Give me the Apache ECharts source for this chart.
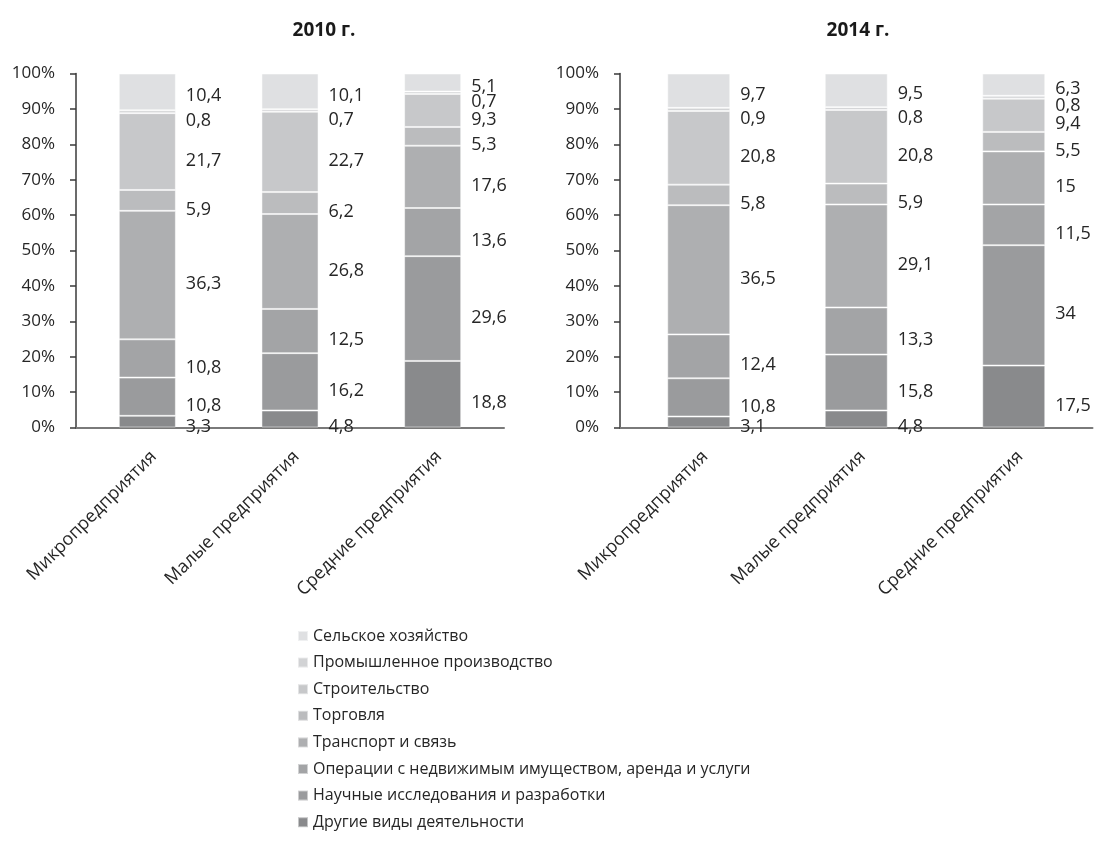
<!DOCTYPE html>
<html><head><meta charset="utf-8">
<script src="https://cdn.jsdelivr.net/npm/echarts@6/dist/echarts.min.js"></script>
<style>html,body{margin:0;padding:0;background:#fff}#c{width:1097px;height:848px}</style>
</head><body><div id="c"></div>
<script>
// ---- data ----
const categories = ['Микропредприятия', 'Малые предприятия', 'Средние предприятия'];
const panelTitles = ['2010 г.', '2014 г.'];
// series, stacked bottom -> top
const seriesNames = [
  'Другие виды деятельности',
  'Научные исследования и разработки',
  'Операции с недвижимым имуществом, аренда и услуги',
  'Транспорт и связь',
  'Торговля',
  'Строительство',
  'Промышленное производство',
  'Сельское хозяйство'
];
const legendOrder = seriesNames.slice().reverse();
// values per series (same order as seriesNames), per category
const data2010 = [
  [3.3, 4.8, 18.8],
  [10.8, 16.2, 29.6],
  [10.8, 12.5, 13.6],
  [36.3, 26.8, 17.6],
  [5.9, 6.2, 5.3],
  [21.7, 22.7, 9.3],
  [0.8, 0.7, 0.7],
  [10.4, 10.1, 5.1]
];
const data2014 = [
  [3.1, 4.8, 17.5],
  [10.8, 15.8, 34],
  [12.4, 13.3, 11.5],
  [36.5, 29.1, 15],
  [5.8, 5.9, 5.5],
  [20.8, 20.8, 9.4],
  [0.9, 0.8, 0.8],
  [9.7, 9.5, 6.3]
];
const yMin = 0, yMax = 100, yInterval = 10;
const colors = ['#898a8c', '#9a9b9d', '#a3a4a6', '#aeafb1', '#bbbcbe', '#c7c8ca', '#d2d3d5', '#dfe0e2'];

// ---- layout ----
const FONT = 'Open Sans';
const GRID_TOP = 73.5, GRID_H = 354;
const BASE_Y = GRID_TOP + GRID_H;
const PX_PER = GRID_H / (yMax - yMin);
const GAP = 15, MIN_BOTTOM = 10, MAX_TOP = GRID_H - 4, TOP_RAISE = 5;

function computeLabelPos(data) {
  const res = [];
  const n = data.length;
  for (let c = 0; c < categories.length; c++) {
    let cum = 0; const centers = [];
    for (let s = 0; s < n; s++) {
      centers.push((cum + data[s][c] / 2) * PX_PER);
      cum += data[s][c];
    }
    centers[n - 1] += TOP_RAISE;
    const pos = [];
    for (let s = 0; s < n; s++) {
      pos[s] = s === 0 ? Math.max(centers[0], MIN_BOTTOM) : Math.max(centers[s], pos[s - 1] + GAP);
    }
    for (let s = n - 1; s >= 0; s--) {
      const lim = s === n - 1 ? MAX_TOP : pos[s + 1] - GAP;
      pos[s] = Math.min(pos[s], lim);
    }
    res.push(pos);
  }
  return res;
}
const labelPos = [computeLabelPos(data2010), computeLabelPos(data2014)];
const allData = [data2010, data2014];

const series = [];
allData.forEach((d, g) => {
  d.forEach((vals, s) => {
    series.push({
      type: 'bar',
      name: seriesNames[s],
      xAxisIndex: g, yAxisIndex: g,
      stack: 'st' + g,
      barWidth: '40%',
      data: vals,
      itemStyle: { color: colors[s], borderColor: 'rgba(255,255,255,0.5)', borderWidth: 1 },
      label: {
        show: true, position: 'right', distance: 10,
        fontFamily: FONT, fontSize: 18, color: '#262626',
        formatter: p => String(p.value).replace('.', ',')
      },
      labelLayout: function (params) {
        const gi = Math.floor(params.seriesIndex / seriesNames.length);
        const si = params.seriesIndex % seriesNames.length;
        return { y: BASE_Y - labelPos[gi][params.dataIndex][si] };
      },
      emphasis: { disabled: true }
    });
  });
});

const xAxisBase = {
  type: 'category', data: categories,
  axisLine: { lineStyle: { color: '#7a7a7a', width: 2 } },
  axisTick: { show: false },
  axisLabel: { rotate: 45, align: 'right', verticalAlign: 'top', fontFamily: FONT, fontSize: 18, color: '#262626', margin: 20, interval: 0 }
};
const yAxisBase = {
  type: 'value', min: yMin, max: yMax, interval: yInterval,
  axisLine: { show: true, lineStyle: { color: '#3a3a3a', width: 1.5 } },
  axisTick: { show: true, length: 6, lineStyle: { color: '#3a3a3a', width: 1.5 } },
  splitLine: { show: false },
  axisLabel: { formatter: '{value}%', fontFamily: FONT, fontSize: 17, color: '#262626', margin: 21 }
};

const chart = echarts.init(document.getElementById('c'), null, { renderer: 'canvas' });
chart.setOption({
  animation: false,
  backgroundColor: '#ffffff',
  grid: [
    { left: 76, width: 428, top: GRID_TOP, height: GRID_H },
    { left: 620, width: 472.5, top: GRID_TOP, height: GRID_H }
  ],
  xAxis: [Object.assign({ gridIndex: 0 }, xAxisBase), Object.assign({ gridIndex: 1 }, xAxisBase)],
  yAxis: [Object.assign({ gridIndex: 0 }, yAxisBase), Object.assign({ gridIndex: 1 }, yAxisBase)],
  legend: {
    orient: 'vertical', left: 297, top: 626, padding: 0,
    itemWidth: 10, itemHeight: 10, itemGap: 6.6, icon: 'rect',
    selectedMode: false,
    data: legendOrder,
    textStyle: { fontFamily: FONT, fontSize: 16, color: '#262626', lineHeight: 20 }
  },
  graphic: [
    { type: 'text', x: 324, y: 31, style: { text: panelTitles[0], align: 'center', verticalAlign: 'middle', font: 'bold 19px "Open Sans"', fill: '#1a1a1a' } },
    { type: 'text', x: 858, y: 31, style: { text: panelTitles[1], align: 'center', verticalAlign: 'middle', font: 'bold 19px "Open Sans"', fill: '#1a1a1a' } }
  ],
  series: series
});
</script>
</body></html>
